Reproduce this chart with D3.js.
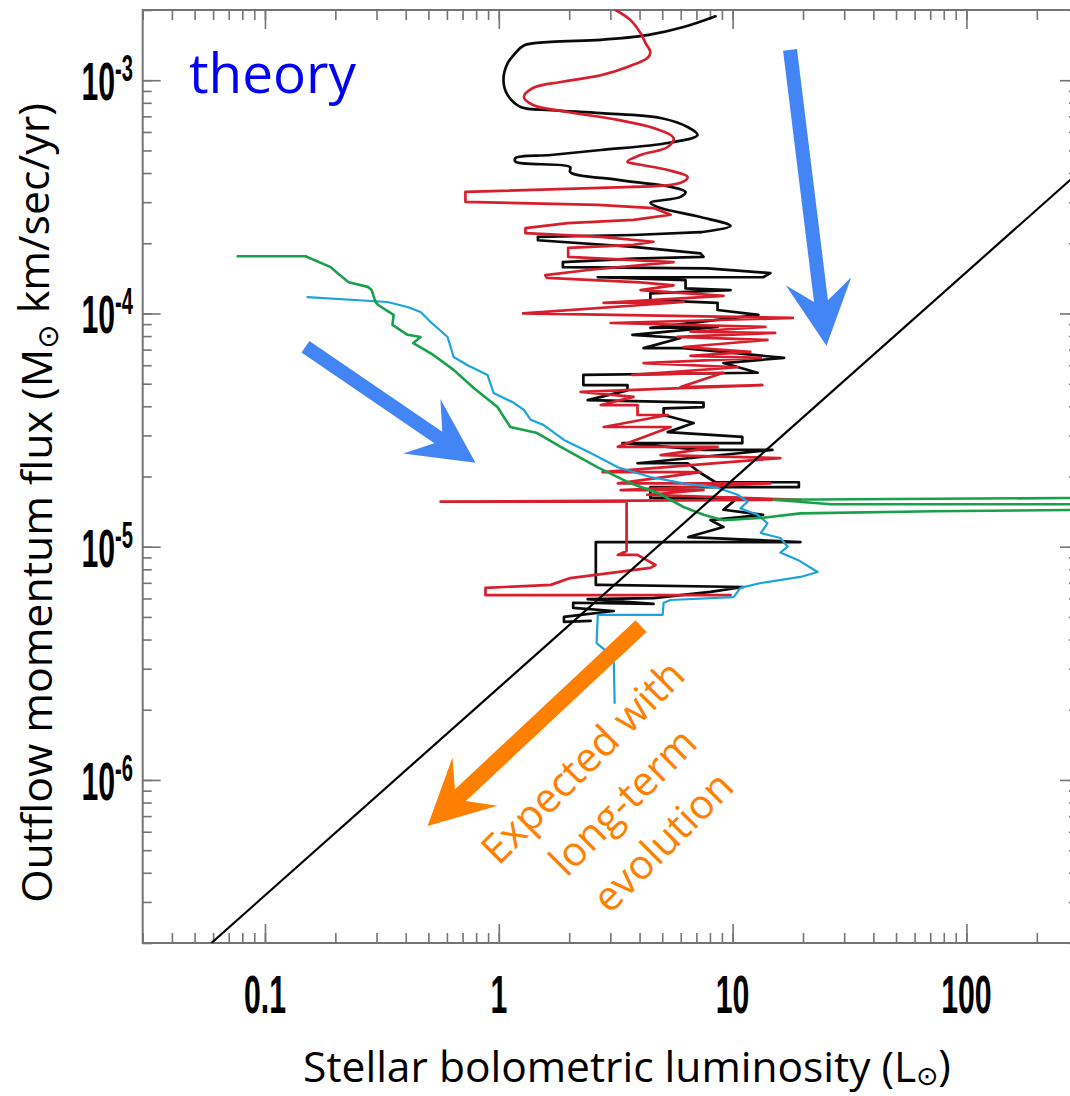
<!DOCTYPE html>
<html><head><meta charset="utf-8">
<script src="https://cdn.jsdelivr.net/npm/d3@7"></script>
<style>html,body{margin:0;padding:0;background:#fff;} svg{display:block;}</style>
</head><body>
<svg id="chart" width="1070" height="1096"></svg>
<script>
// ---------------- data (L in Lsun, F in Msun km/s/yr) ----------------
const xDomain = [0.03, 300];
const yDomain = [2e-7, 2e-3];
const xMajorTicks = [0.1, 1, 10, 100];
const xTickLabels = ["0.1", "1", "10", "100"];
const yMajorTicks = [1e-3, 1e-4, 1e-5, 1e-6];
const yTickExponents = ["-3", "-4", "-5", "-6"];

// empirical relation line (two end points)
const relationL = [0.059, 300];
const relationF = [2.0e-7, 4.0e-4];

const redSeries = [[3.16,2.0e-3],[3.66,1.81e-3],[4.04,1.59e-3],[4.25,1.44e-3],[4.45,1.32e-3],[4.32,1.245e-3],[3.55,1.14e-3],[2.73,1.05e-3],[1.84,9.83e-4],[1.40,9.26e-4],[1.28,8.47e-4],[1.40,7.83e-4],[1.97,7.31e-4],[3.23,6.76e-4],[4.59,6.24e-4],[5.59,5.66e-4],[5.28,5.17e-4],[4.04,4.78e-4],[3.55,4.47e-4],[4.04,4.34e-4],[5.28,4.12e-4],[6.42,3.85e-4],[5.99,3.63e-4],[3.77,3.49e-4],[0.72,3.32e-4],[0.72,3.01e-4],[2.65,2.92e-4],[4.59,2.83e-4],[5.43,2.65e-4],[3.77,2.52e-4],[1.97,2.44e-4],[1.30,2.32e-4],[1.30,2.21e-4],[2.73,2.13e-4],[4.59,2.03e-4],[3.77,1.97e-4],[1.98,1.91e-4],[1.98,1.75e-4],[5.59,1.66e-4],[2.47,1.54e-4],[1.58,1.46e-4],[1.61,1.42e-4],[4.04,1.36e-4],[5.59,1.32e-4],[4.04,1.26e-4],[9.14,1.19e-4],[2.81,1.11e-4],[6.17,1.12e-4],[1.27,1.0e-4],[18.1,9.57e-5],[3.01,9.1e-5],[13.8,8.76e-5],[6.61,8.35e-5],[15.2,8.25e-5],[5.82,7.93e-5],[14.1,7.7e-5],[6.17,7.18e-5],[11.9,6.84e-5],[6.61,6.58e-5],[13.2,6.45e-5],[4.16,6.13e-5],[10.5,5.88e-5],[3.73,5.45e-5],[9.14,5.57e-5],[5.99,4.84e-5],[13.4,4.93e-5],[2.24,4.61e-5],[3.77,4.39e-5],[2.73,4.05e-5],[3.92,4.05e-5],[3.92,3.67e-5],[5.28,3.67e-5],[2.81,3.26e-5],[5.43,3.26e-5],[3.23,2.68e-5],[8.62,2.68e-5],[4.92,2.47e-5],[16.0,2.40e-5],[2.78,2.09e-5],[7.29,2.09e-5],[3.23,1.87e-5],[14.5,1.87e-5],[3.32,1.75e-5],[7.51,1.75e-5],[4.32,1.67e-5],[19.5,1.59e-5],[0.564,1.56e-5],[3.52,1.56e-5],[3.52,9.58e-6],[3.23,9.22e-6],[3.92,9.22e-6],[4.68,8.35e-6],[4.45,8.12e-6],[2.02,7.34e-6],[1.67,6.86e-6],[0.877,6.66e-6],[0.877,6.2e-6],[9.80,6.2e-6]];
const redSmoothCount = 24;   // first points follow a smooth track

const blackSeries = [[8.45,1.88e-3],[6.17,1.69e-3],[4.32,1.56e-3],[2.73,1.49e-3],[1.67,1.46e-3],[1.28,1.41e-3],[1.18,1.31e-3],[1.09,1.18e-3],[1.047,1.0e-3],[1.09,8.65e-4],[1.24,7.68e-4],[1.67,7.45e-4],[2.73,7.23e-4],[4.92,6.89e-4],[6.42,6.3e-4],[7.08,5.82e-4],[5.28,5.38e-4],[2.73,5.02e-4],[1.67,4.78e-4],[1.18,4.64e-4],[1.18,4.47e-4],[2.02,4.24e-4],[2.02,4.04e-4],[3.23,3.74e-4],[5.43,3.49e-4],[6.29,3.32e-4],[5.99,3.16e-4],[4.45,2.98e-4],[4.92,2.83e-4],[7.29,2.59e-4],[9.80,2.37e-4],[7.29,2.23e-4],[3.77,2.17e-4],[1.47,2.13e-4],[1.47,2.06e-4],[3.77,1.93e-4],[7.29,1.81e-4],[7.51,1.75e-4],[3.77,1.72e-4],[1.88,1.66e-4],[1.88,1.58e-4],[7.81,1.56e-4],[14.5,1.49e-4],[13.5,1.43e-4],[2.65,1.43e-4],[6.29,1.39e-4],[6.29,1.28e-4],[9.80,1.26e-4],[4.45,1.22e-4],[4.45,1.14e-4],[8.62,1.11e-4],[8.62,1.035e-4],[12.9,9.86e-5],[4.45,8.67e-5],[8.62,8.76e-5],[3.73,8.1e-5],[5.99,7.85e-5],[4.16,7.1e-5],[6.17,7.1e-5],[16.6,6.45e-5],[9.14,6.13e-5],[12.8,5.57e-5],[2.30,5.45e-5],[2.30,4.93e-5],[3.55,4.93e-5],[3.55,4.68e-5],[2.40,4.25e-5],[7.51,4.15e-5],[7.51,3.97e-5],[5.07,3.92e-5],[5.07,3.67e-5],[6.81,3.39e-5],[5.28,3.10e-5],[11.0,2.96e-5],[11.0,2.78e-5],[3.38,2.78e-5],[7.51,2.6e-5],[14.8,2.6e-5],[3.92,2.28e-5],[6.42,2.28e-5],[7.29,2.07e-5],[8.45,1.89e-5],[19.2,1.89e-5],[19.2,1.80e-5],[4.45,1.80e-5],[4.45,1.62e-5],[10.5,1.62e-5],[9.14,1.44e-5],[13.5,1.37e-5],[8.04,1.30e-5],[9.14,1.215e-5],[6.47,1.10e-5],[19.5,1.047e-5],[2.60,1.047e-5],[2.60,6.86e-6],[2.73,6.86e-6],[11.1,6.72e-6],[8.04,6.4e-6],[4.59,6.02e-6],[2.40,5.96e-6],[4.59,5.69e-6],[2.08,5.75e-6],[2.08,5.47e-6],[3.10,5.30e-6],[1.90,5.0e-6],[1.90,4.76e-6],[2.47,4.81e-6]];
const blackSmoothCount = 32;

const cyanSeries = [[0.152,1.176e-4],[0.334,1.12e-4],[0.407,1.066e-4],[0.463,1.014e-4],[0.511,9.19e-5],[0.604,7.93e-5],[0.641,6.51e-5],[0.735,6.0e-5],[0.895,5.45e-5],[0.95,4.56e-5],[1.155,4.15e-5],[1.28,3.86e-5],[1.37,3.5e-5],[1.55,3.33e-5],[1.90,2.87e-5],[2.47,2.52e-5],[3.23,2.19e-5],[4.45,1.99e-5],[6.17,1.87e-5],[8.62,1.79e-5],[10.5,1.67e-5],[11.6,1.56e-5],[10.8,1.46e-5],[12.8,1.37e-5],[14.1,1.26e-5],[13.2,1.145e-5],[16.0,1.09e-5],[17.2,1.0e-5],[16.0,9.44e-6],[19.0,8.78e-6],[23.1,7.79e-6],[19.5,7.42e-6],[13.2,6.99e-6],[10.8,6.66e-6],[10.1,6.08e-6],[5.43,5.91e-6],[5.07,5.75e-6],[5.02,5.1e-6],[2.65,5.1e-6],[2.62,3.86e-6],[3.10,3.36e-6],[3.13,2.14e-6]];

const greenSeries = [[0.0764,1.76e-4],[0.149,1.76e-4],[0.191,1.58e-4],[0.204,1.49e-4],[0.228,1.36e-4],[0.275,1.30e-4],[0.286,1.26e-4],[0.297,1.12e-4],[0.305,1.087e-4],[0.355,9.86e-5],[0.351,8.93e-5],[0.407,8.1e-5],[0.463,7.93e-5],[0.431,7.47e-5],[0.525,6.64e-5],[0.641,5.73e-5],[0.779,4.80e-5],[0.987,3.97e-5],[1.12,3.26e-5],[1.46,3.07e-5],[1.84,2.68e-5],[2.65,2.19e-5],[3.66,1.87e-5],[4.78,1.70e-5],[6.17,1.48e-5],[7.51,1.37e-5],[9.14,1.30e-5],[13.5,1.33e-5],[19.5,1.39e-5],[72.3,1.42e-5],[374,1.44e-5],[374,1.52e-5],[26.3,1.52e-5],[15.0,1.59e-5],[374,1.62e-5]];

// annotation arrows (data coordinates: [L, F])
const blueArrowFrom = [[0.149, 7.2e-5], [17.6, 1.348e-3]];
const blueArrowTo   = [[0.795, 2.29e-5], [25.2, 7.27e-5]];
const orangeArrowFrom = [4.06, 4.57e-6];
const orangeArrowTo   = [0.496, 6.35e-7];

const orangeLines = ["Expected with", "long-term", "evolution"];

// ---------------- drawing ----------------
const svg = d3.select('#chart');
const L = 142.7, R = 1078, T = 10, B = 943;
const x = d3.scaleLog().domain(xDomain).range([L, R]);
const y = d3.scaleLog().domain(yDomain).range([B, T]);

svg.append('rect').attr('width',1070).attr('height',1096).attr('fill','#fff');

svg.append('defs').append('clipPath').attr('id','plotclip')
  .append('rect').attr('x',L).attr('y',T).attr('width',R-L).attr('height',B-T);

const axisColor = '#747474';
function styleAxis(g){
  g.select('.domain').remove();
  g.selectAll('text').remove();
  g.selectAll('line').attr('stroke',axisColor).attr('stroke-width',1.6);
}
const minorX = x.ticks(), minorY = y.ticks();
svg.append('g').attr('transform',`translate(0,${B})`).call(d3.axisBottom(x).tickValues(minorX).tickSize(-10)).call(styleAxis);
svg.append('g').attr('transform',`translate(0,${B})`).call(d3.axisBottom(x).tickValues(xMajorTicks).tickSize(-19)).call(styleAxis);
svg.append('g').attr('transform',`translate(0,${T})`).call(d3.axisTop(x).tickValues(minorX).tickSize(-10)).call(styleAxis);
svg.append('g').attr('transform',`translate(0,${T})`).call(d3.axisTop(x).tickValues(xMajorTicks).tickSize(-19)).call(styleAxis);
svg.append('g').attr('transform',`translate(${L},0)`).call(d3.axisLeft(y).tickValues(minorY).tickSize(-9)).call(styleAxis);
svg.append('g').attr('transform',`translate(${L},0)`).call(d3.axisLeft(y).tickValues(yMajorTicks).tickSize(-18)).call(styleAxis);
svg.append('g').attr('transform',`translate(${R},0)`).call(d3.axisRight(y).tickValues(minorY).tickSize(-9)).call(styleAxis);
svg.append('g').attr('transform',`translate(${R},0)`).call(d3.axisRight(y).tickValues(yMajorTicks).tickSize(-18)).call(styleAxis);

svg.append('rect').attr('x',L).attr('y',T).attr('width',R-L).attr('height',B-T)
  .attr('fill','none').attr('stroke',axisColor).attr('stroke-width',2);

// tick labels
const numFont = "'Liberation Sans', Arial, Helvetica, sans-serif";
xMajorTicks.forEach((v,i)=>{
  svg.append('g').attr('transform',`translate(${x(v)},1013)`)
    .append('text').attr('transform','scale(0.56,1)')
    .attr('text-anchor','middle').attr('font-family',numFont).attr('font-size',54)
    .attr('font-weight','bold').attr('fill','#000').text(xTickLabels[i]);
});
yMajorTicks.forEach((v,i)=>{
  const t = svg.append('g').attr('transform',`translate(133,${y(v)+20})`)
    .append('text').attr('transform','scale(0.56,1)')
    .attr('text-anchor','end').attr('font-family',numFont).attr('font-weight','bold').attr('fill','#000');
  t.append('tspan').attr('font-size',54).text('10');
  t.append('tspan').attr('font-size',36).attr('dy',-19).text(yTickExponents[i]);
});

// curves
const line = d3.line().x(d=>x(d[0])).y(d=>y(d[1]));
const smooth = d3.line().x(d=>x(d[0])).y(d=>y(d[1])).curve(d3.curveCatmullRom.alpha(0.5));
const plot = svg.append('g').attr('clip-path','url(#plotclip)');
function drawPath(d, color, w){
  plot.append('path').attr('d',d).attr('fill','none')
    .attr('stroke',color).attr('stroke-width',w)
    .attr('stroke-linejoin','round').attr('stroke-linecap','round');
}
drawPath(smooth(blackSeries.slice(0, blackSmoothCount)), '#0a0a0a', 2.7);
drawPath(line(blackSeries.slice(blackSmoothCount-1)), '#0a0a0a', 2.7);
drawPath(smooth(redSeries.slice(0, redSmoothCount)), '#d81e2c', 2.7);
drawPath(line(redSeries.slice(redSmoothCount-1)), '#d81e2c', 2.7);
drawPath(line(cyanSeries), '#1ba3dc', 2.2);
drawPath(line(greenSeries), '#19a04b', 2.6);
plot.append('path').attr('d', line(relationL.map((l,i)=>[l, relationF[i]])))
  .attr('fill','none').attr('stroke','#000').attr('stroke-width',2.2);

// arrows
function arrowPoints(p0, p1, sw, hw, hl, notch){
  const x0=x(p0[0]), y0=y(p0[1]), x1=x(p1[0]), y1=y(p1[1]);
  const len=Math.hypot(x1-x0,y1-y0), ux=(x1-x0)/len, uy=(y1-y0)/len, nx=-uy, ny=ux;
  const j = hl - notch;
  return [
    [x0+nx*sw/2, y0+ny*sw/2],
    [x1-ux*j+nx*sw/2, y1-uy*j+ny*sw/2],
    [x1-ux*hl+nx*hw/2, y1-uy*hl+ny*hw/2],
    [x1, y1],
    [x1-ux*hl-nx*hw/2, y1-uy*hl-ny*hw/2],
    [x1-ux*j-nx*sw/2, y1-uy*j-ny*sw/2],
    [x0-nx*sw/2, y0-ny*sw/2]
  ].map(p=>p.join(',')).join(' ');
}
blueArrowFrom.forEach((f,i)=>{
  svg.append('polygon').attr('points', arrowPoints(f, blueArrowTo[i], 14, 66, 65, 20)).attr('fill','#4485f5');
});
svg.append('polygon').attr('points', arrowPoints(orangeArrowFrom, orangeArrowTo, 16, 66, 65, 20)).attr('fill','#ff7f00');

// annotation texts
const textFont = "'Open Sans', 'Noto Sans', sans-serif";
svg.append('text').attr('x',189).attr('y',93).attr('font-family',textFont).attr('font-size',55)
  .attr('fill','#0000f5').attr('textLength',167).attr('lengthAdjust','spacingAndGlyphs').text('theory');

const centers = [[583,762],[623,802],[663,842]];
orangeLines.forEach((s,i)=>{
  svg.append('g').attr('transform',`translate(${centers[i][0]},${centers[i][1]}) rotate(-45)`)
    .append('text').attr('y',14).attr('text-anchor','middle').attr('font-family',textFont)
    .attr('font-size',41).attr('fill','#ff7f00').text(s);
});

// axis titles (font size fitted to the reference text length)
function fitFont(textSel, base, target){
  const w = textSel.node().getComputedTextLength();
  if (w > 0) textSel.attr('font-size', base * target / w);
}
const yt = svg.append('g').attr('transform','translate(52,503) rotate(-90)')
  .append('text').attr('text-anchor','middle').attr('font-family',textFont).attr('font-size',41)
  .attr('fill','#000');
yt.append('tspan').text('Outflow momentum flux (M');
yt.append('tspan').attr('font-size','0.68em').attr('dy','0.2em').attr('font-family',"'DejaVu Sans', sans-serif").text('\u2299');
yt.append('tspan').attr('dy','-0.2em').text(' km/sec/yr)');
fitFont(yt, 41, 800);

const xt = svg.append('text').attr('x',627).attr('y',1082).attr('text-anchor','middle')
  .attr('font-family',textFont).attr('font-size',41).attr('fill','#000');
xt.append('tspan').text('Stellar bolometric luminosity (L');
xt.append('tspan').attr('font-size','0.62em').attr('dy','0.12em').attr('font-family',"'DejaVu Sans', sans-serif").text('\u2299');
xt.append('tspan').attr('dy','-0.12em').text(')');
fitFont(xt, 41, 648);
</script>
</body></html>
